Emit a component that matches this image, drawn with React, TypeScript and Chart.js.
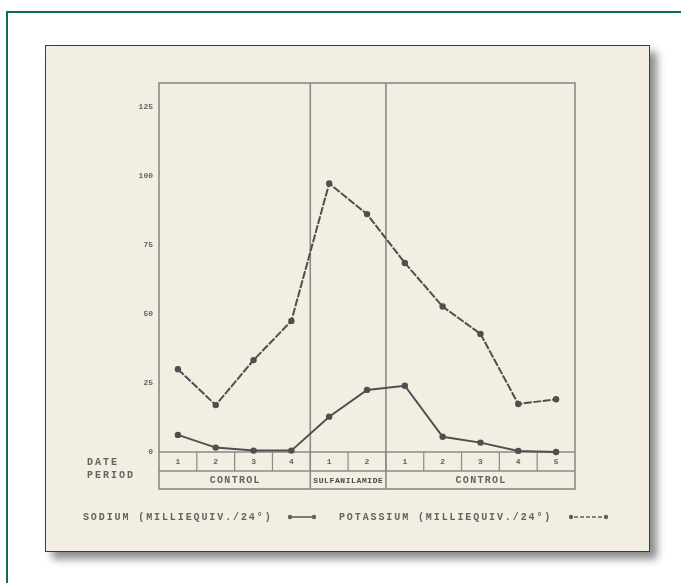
import React, { useEffect, useRef } from 'react';
import { Chart, registerables } from 'chart.js';

Chart.register(...registerables);

// ---- data ----
const dayLabels = ['1', '2', '3', '4', '1', '2', '1', '2', '3', '4', '5'];
const periodLabels = ['CONTROL', 'SULFANILAMIDE', 'CONTROL'];
const periodSpans = [4, 2, 5];
const potassium = [30, 17, 33.3, 47.5, 97.3, 86.2, 68.5, 52.7, 42.8, 17.4, 19.1];
const sodium = [6.2, 1.6, 0.5, 0.5, 12.8, 22.5, 24, 5.5, 3.4, 0.4, 0];
const yTicks = [0, 25, 50, 75, 100, 125];
const legendSodium = 'SODIUM (MILLIEQUIV./24°)';
const legendPotassium = 'POTASSIUM (MILLIEQUIV./24°)';

const INK = '#636363';
const LINE = '#4f4f4f';
const FONT = 'bold 10px "Liberation Mono", "DejaVu Sans Mono", monospace';

function spaced(ctx: CanvasRenderingContext2D, text: string, x: number, y: number, pitch: number, align: 'left' | 'center') {
  const w = pitch * text.length;
  const sx = align === 'center' ? x - w / 2 : x;
  ctx.textAlign = 'center';
  ctx.textBaseline = 'middle';
  for (let i = 0; i < text.length; i++) {
    ctx.fillText(text[i], sx + pitch * i + pitch / 2, y);
  }
}

const decor = {
  id: 'decor',
  beforeDraw(chart: any) {
    const ctx = chart.ctx as CanvasRenderingContext2D;
    ctx.save();
    ctx.fillStyle = '#ffffff';
    ctx.fillRect(0, 0, chart.width, chart.height);
    // green frame
    ctx.strokeStyle = '#0f6e57';
    ctx.lineWidth = 2;
    ctx.beginPath();
    ctx.moveTo(7, chart.height);
    ctx.lineTo(7, 12);
    ctx.lineTo(chart.width, 12);
    ctx.stroke();
    // paper with shadow
    ctx.shadowColor = 'rgba(0,0,0,0.45)';
    ctx.shadowBlur = 8;
    ctx.shadowOffsetX = 7;
    ctx.shadowOffsetY = 7;
    ctx.fillStyle = '#f2eee2';
    ctx.fillRect(45, 45, 605, 507);
    ctx.shadowColor = 'transparent';
    ctx.strokeStyle = '#3c3c3c';
    ctx.lineWidth = 1;
    ctx.strokeRect(45.5, 45.5, 604, 506);
    ctx.restore();
  },
  beforeDatasetsDraw(chart: any) {
    const ctx = chart.ctx as CanvasRenderingContext2D;
    const xs = chart.scales.x;
    const ys = chart.scales.y;
    const n = dayLabels.length;
    const px = (i: number) => xs.getPixelForValue(i);
    const half = (px(1) - px(0)) / 2;
    const left = chart.chartArea.left;
    const right = chart.chartArea.right;
    const top = chart.chartArea.top;
    const y0 = ys.getPixelForValue(0);
    const r1 = y0 + 19;
    const r2 = y0 + 37;
    ctx.save();
    ctx.strokeStyle = '#8a8a8a';
    ctx.lineWidth = 1.6;
    ctx.strokeRect(left, top, right - left, r2 - top);
    ctx.beginPath();
    ctx.moveTo(left, y0); ctx.lineTo(right, y0);
    ctx.moveTo(left, r1); ctx.lineTo(right, r1);
    ctx.stroke();
    // period dividers
    let acc = 0;
    ctx.beginPath();
    for (let p = 0; p < periodSpans.length - 1; p++) {
      acc += periodSpans[p];
      const xx = px(acc - 1) + half;
      ctx.moveTo(xx, top); ctx.lineTo(xx, r2);
    }
    ctx.stroke();
    // day cell separators
    ctx.lineWidth = 1.2;
    ctx.beginPath();
    for (let i = 1; i < n; i++) {
      const xx = px(i) - half;
      ctx.moveTo(xx, y0); ctx.lineTo(xx, r1);
    }
    ctx.stroke();
    // texts
    ctx.filter = 'blur(0.45px)';
    ctx.fillStyle = INK;
    ctx.font = 'bold 8px "Liberation Mono", monospace';
    for (let i = 0; i < n; i++) {
      spaced(ctx, dayLabels[i], px(i), (y0 + r1) / 2, 6, 'center');
    }
    ctx.font = FONT;
    acc = 0;
    for (let p = 0; p < periodLabels.length; p++) {
      const a = px(acc) - half;
      const b = px(acc + periodSpans[p] - 1) + half;
      const label = periodLabels[p];
      const long = label.length > 10;
      ctx.font = long ? 'bold 8px "Liberation Mono", monospace' : FONT;
      ctx.fillStyle = long ? '#4a4a4a' : INK;
      spaced(ctx, label, (a + b) / 2, (r1 + r2) / 2 + 0.5, long ? 5.4 : 7.3, 'center');
      acc += periodSpans[p];
    }
    ctx.font = FONT;
    ctx.fillStyle = INK;
    spaced(ctx, 'DATE', 86, y0 + 10, 8, 'left');
    spaced(ctx, 'PERIOD', 86, r1 + 4, 8, 'left');
    // legend
    const ly = r2 + 28;
    spaced(ctx, legendSodium, 82, ly, 7.9, 'left');
    spaced(ctx, legendPotassium, 338, ly, 7.9, 'left');
    ctx.filter = 'none';
    ctx.fillStyle = '#5e5e5e';
    ctx.strokeStyle = '#5e5e5e';
    ctx.lineWidth = 1.6;
    ctx.beginPath(); ctx.arc(290, ly, 2.2, 0, Math.PI * 2); ctx.fill();
    ctx.beginPath(); ctx.arc(314, ly, 2.2, 0, Math.PI * 2); ctx.fill();
    ctx.beginPath(); ctx.moveTo(292, ly); ctx.lineTo(312, ly); ctx.stroke();
    ctx.beginPath(); ctx.arc(571, ly, 2.2, 0, Math.PI * 2); ctx.fill();
    ctx.beginPath(); ctx.arc(606, ly, 2.2, 0, Math.PI * 2); ctx.fill();
    ctx.setLineDash([4, 2]);
    ctx.beginPath(); ctx.moveTo(574, ly); ctx.lineTo(604, ly); ctx.stroke();
    ctx.restore();
  },
};

export default function App() {
  const ref = useRef<HTMLCanvasElement>(null);
  useEffect(() => {
    if (!ref.current) return;
    const chart = new Chart(ref.current, {
      type: 'line',
      data: {
        labels: dayLabels,
        datasets: [
          {
            label: 'Potassium',
            data: potassium,
            borderColor: LINE,
            backgroundColor: LINE,
            borderWidth: 2,
            borderDash: [8, 1.5],
            pointRadius: 3.2,
            pointBorderWidth: 0,
            pointBackgroundColor: LINE,
            tension: 0,
            clip: false as any,
          },
          {
            label: 'Sodium',
            data: sodium,
            borderColor: LINE,
            backgroundColor: LINE,
            borderWidth: 2,
            pointRadius: 3.2,
            pointBorderWidth: 0,
            pointBackgroundColor: LINE,
            tension: 0,
            clip: false as any,
          },
        ],
      },
      options: {
        responsive: false,
        animation: false,
        devicePixelRatio: 1,
        layout: { padding: { left: 0, right: 106, top: 83, bottom: 131 } },
        plugins: { legend: { display: false }, tooltip: { enabled: false } },
        scales: {
          x: { type: 'category', display: false, offset: true },
          y: {
            min: 0,
            max: 133.7,
            afterBuildTicks: (s: any) => {
              s.ticks = yTicks.map((v) => ({ value: v }));
            },
            afterFit: (s: any) => {
              s.width = 159;
            },
            grid: { display: false, drawTicks: false },
            border: { display: false },
            ticks: {
              color: '#666666',
              padding: 6,
              font: { family: '"Liberation Mono", monospace', size: 8, weight: 'bold' },
            },
          },
        },
      },
      plugins: [decor],
    });
    return () => chart.destroy();
  }, []);
  return (
    <div style={{ position: 'fixed', left: 0, top: 0, width: 681, height: 583 }}>
      <canvas ref={ref} width={681} height={583} style={{ display: 'block', width: 681, height: 583 }} />
    </div>
  );
}
